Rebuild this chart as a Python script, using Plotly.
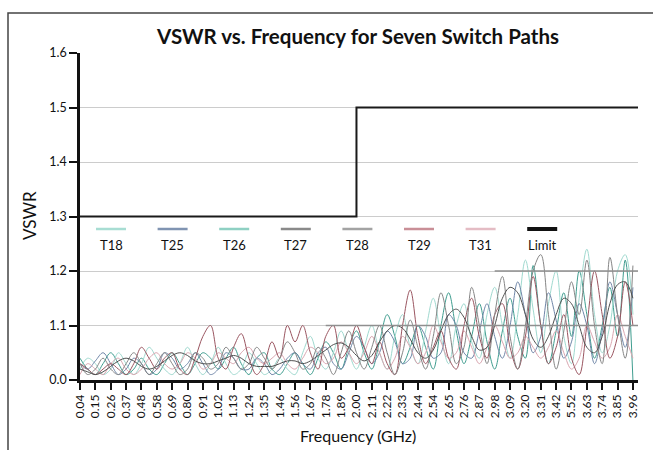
import numpy as np
import plotly.graph_objects as go

freq_labels = ["0.04", "0.15", "0.26", "0.37", "0.48", "0.58", "0.69", "0.80", "0.91",
               "1.02", "1.13", "1.24", "1.35", "1.46", "1.56", "1.67", "1.78", "1.89",
               "2.00", "2.11", "2.22", "2.33", "2.44", "2.54", "2.65", "2.76", "2.87",
               "2.98", "3.09", "3.20", "3.31", "3.42", "5.52", "3.63", "3.74", "3.85", "3.96"]

y_tick_vals = [1.0, 1.1, 1.2, 1.3, 1.4, 1.5, 1.6]
y_tick_text = ["0.0", "1.1", "1.2", "1.3", "1.4", "1.5", "1.6"]

# VSWR readings, two samples per frequency label (label, then half way to next)
T18 = [1.02, 1.04, 1.03, 1.01, 1.02, 1.05, 1.03, 1.01,
       1.03, 1.06, 1.04, 1.02, 1.01, 1.03, 1.06, 1.03,
       1.01, 1.03, 1.06, 1.03, 1.01, 1.02, 1.05, 1.03,
       1.01, 1.02, 1.04, 1.02, 1.01, 1.05, 1.08, 1.04,
       1.02, 1.05, 1.09, 1.05, 1.02, 1.06, 1.10, 1.05,
       1.02, 1.08, 1.12, 1.06, 1.03, 1.09, 1.15, 1.08,
       1.03, 1.10, 1.14, 1.07, 1.04, 1.12, 1.17, 1.10,
       1.04, 1.12, 1.22, 1.13, 1.05, 1.14, 1.20, 1.08,
       1.03, 1.15, 1.24, 1.12, 1.05, 1.10, 1.20, 1.23,
       1.12]
T25 = [1.03, 1.02, 1.035, 1.05, 1.03, 1.01, 1.02, 1.04,
       1.03, 1.01, 1.02, 1.05, 1.04, 1.02, 1.03, 1.05,
       1.03, 1.01, 1.02, 1.05, 1.04, 1.02, 1.02, 1.04,
       1.03, 1.01, 1.02, 1.04, 1.05, 1.03, 1.02, 1.05,
       1.06, 1.03, 1.02, 1.05, 1.08, 1.06, 1.03, 1.05,
       1.09, 1.07, 1.03, 1.04, 1.10, 1.08, 1.04, 1.05,
       1.12, 1.10, 1.05, 1.04, 1.09, 1.14, 1.08, 1.04,
       1.10, 1.18, 1.12, 1.05, 1.08, 1.16, 1.11, 1.04,
       1.07, 1.14, 1.10, 1.03, 1.09, 1.18, 1.12, 1.06,
       1.17]
T26 = [1.04, 1.02, 1.01, 1.03, 1.05, 1.03, 1.01, 1.02,
       1.04, 1.02, 1.01, 1.03, 1.05, 1.03, 1.01, 1.03,
       1.05, 1.04, 1.02, 1.04, 1.06, 1.03, 1.01, 1.04,
       1.05, 1.02, 1.01, 1.03, 1.05, 1.03, 1.01, 1.04,
       1.07, 1.05, 1.02, 1.06, 1.09, 1.05, 1.02, 1.07,
       1.12, 1.08, 1.03, 1.06, 1.10, 1.06, 1.02, 1.10,
       1.16, 1.09, 1.03, 1.08, 1.14, 1.07, 1.02, 1.09,
       1.15, 1.08, 1.04, 1.21, 1.10, 1.03, 1.09, 1.16,
       1.08, 1.20, 1.12, 1.04, 1.10, 1.17, 1.08, 1.22,
       1.00]
T27 = [1.02, 1.015, 1.01, 1.015, 1.025, 1.035, 1.04, 1.035,
       1.025, 1.02, 1.025, 1.035, 1.045, 1.05, 1.045, 1.035,
       1.03, 1.03, 1.035, 1.04, 1.045, 1.04, 1.03, 1.025,
       1.025, 1.025, 1.03, 1.035, 1.035, 1.03, 1.035, 1.045,
       1.055, 1.065, 1.068, 1.06, 1.045, 1.035, 1.045, 1.07,
       1.09, 1.10, 1.095, 1.075, 1.05, 1.04, 1.055, 1.09,
       1.12, 1.13, 1.115, 1.08, 1.055, 1.06, 1.10, 1.15,
       1.17, 1.16, 1.12, 1.075, 1.06, 1.08, 1.12, 1.15,
       1.14, 1.10, 1.06, 1.05, 1.08, 1.14, 1.175, 1.18,
       1.15]
T28 = [1.03, 1.01, 1.02, 1.04, 1.02, 1.01, 1.03, 1.05,
       1.03, 1.01, 1.03, 1.05, 1.03, 1.01, 1.02, 1.05,
       1.04, 1.02, 1.03, 1.06, 1.04, 1.02, 1.03, 1.06,
       1.04, 1.02, 1.04, 1.07, 1.05, 1.02, 1.03, 1.06,
       1.04, 1.01, 1.05, 1.09, 1.05, 1.02, 1.06, 1.10,
       1.05, 1.01, 1.05, 1.11, 1.06, 1.02, 1.08, 1.16,
       1.10, 1.03, 1.06, 1.17, 1.10, 1.03, 1.12, 1.19,
       1.08, 1.02, 1.10, 1.20, 1.23, 1.12, 1.02, 1.09,
       1.18, 1.12, 1.22, 1.10, 1.03, 1.225, 1.12, 1.04,
       1.21]
T29 = [1.03, 1.02, 1.01, 1.02, 1.03, 1.02, 1.01, 1.03,
       1.06, 1.04, 1.02, 1.04, 1.05, 1.02, 1.01, 1.04,
       1.08, 1.10, 1.04, 1.02, 1.06, 1.085, 1.04, 1.01,
       1.03, 1.07, 1.04, 1.10, 1.07, 1.10, 1.05, 1.02,
       1.08, 1.10, 1.04, 1.06, 1.10, 1.06, 1.03, 1.07,
       1.03, 1.01, 1.10, 1.165, 1.08, 1.03, 1.06, 1.09,
       1.04, 1.02, 1.10, 1.15, 1.08, 1.04, 1.12, 1.14,
       1.06, 1.02, 1.08, 1.19, 1.10, 1.03, 1.06, 1.12,
       1.04, 1.01, 1.10, 1.20, 1.12, 1.04, 1.08, 1.18,
       1.10]
T31 = [1.01, 1.03, 1.02, 1.01, 1.03, 1.04, 1.02, 1.01,
       1.02, 1.04, 1.05, 1.03, 1.02, 1.03, 1.05, 1.04,
       1.02, 1.03, 1.05, 1.04, 1.03, 1.05, 1.06, 1.04,
       1.03, 1.04, 1.05, 1.03, 1.02, 1.04, 1.06, 1.05,
       1.03, 1.04, 1.07, 1.05, 1.03, 1.05, 1.08, 1.05,
       1.02, 1.04, 1.08, 1.06, 1.03, 1.05, 1.10, 1.07,
       1.04, 1.05, 1.09, 1.06, 1.03, 1.06, 1.10, 1.07,
       1.04, 1.05, 1.08, 1.06, 1.04, 1.06, 1.09, 1.05,
       1.02, 1.04, 1.10, 1.07, 1.04, 1.06, 1.12, 1.08,
       1.04]

series_names = ["T18", "T25", "T26", "T27", "T28", "T29", "T31"]
series_values = [T18, T25, T26, T27, T28, T29, T31]
series_colors = ["#9fd9cf", "#6f86a8", "#3f9d8f", "#505050", "#858585", "#9a5560", "#d9a6b0"]
legend_colors = ["#a8ddd3", "#8094b2", "#8fd0c3", "#8a8a8a", "#a3a3a3", "#c98f97", "#e4bcc4"]

limit_break_label = "2.00"
limit_low, limit_high = 1.3, 1.5

fig = go.Figure()
x_max = len(freq_labels) - 1 + 0.33
draw_order = [2, 0, 1, 6, 5, 4, 3]
for i in draw_order:
    vals = series_values[i]
    x = np.arange(len(vals)) / 2.0
    fig.add_trace(go.Scatter(x=x, y=vals, mode="lines", name=series_names[i],
                             line=dict(color=series_colors[i], width=1, shape="spline", smoothing=1.0),
                             showlegend=False))

bi = freq_labels.index(limit_break_label)
fig.add_trace(go.Scatter(x=[0, bi, bi, x_max], y=[limit_low, limit_low, limit_high, limit_high],
                         mode="lines", name="Limit", line=dict(color="#1a1a1a", width=2),
                         showlegend=False, cliponaxis=False))

# darker reference lines drawn over the data
fig.add_shape(type="line", xref="x", yref="y", x0=16, x1=x_max, y0=1.1, y1=1.1,
              line=dict(color="#8f8f8f", width=1.3), layer="above")
fig.add_shape(type="line", xref="x", yref="y", x0=27, x1=x_max, y0=1.2, y1=1.2,
              line=dict(color="#8f8f8f", width=1.3), layer="above")

# custom legend: sample line above label
PL, PR, PT, PB = 80, 638, 53, 380
def px_x(p):
    return (p - PL) / (PR - PL)
def px_y(p):
    return (PB - p) / (PB - PT)

leg_names = series_names + ["Limit"]
leg_cols = legend_colors + ["#111111"]
for k, (nm, col) in enumerate(zip(leg_names, leg_cols)):
    cx = 111 + k * 61.6
    w = 4 if nm == "Limit" else 2.5
    fig.add_shape(type="line", xref="paper", yref="paper",
                  x0=px_x(cx - 15), x1=px_x(cx + 15), y0=px_y(229), y1=px_y(229),
                  line=dict(color=col, width=w))
    fig.add_annotation(xref="paper", yref="paper", x=px_x(cx), y=px_y(245), text=nm,
                       showarrow=False, font=dict(family="Lato", size=13, color="#111"),
                       xanchor="center", yanchor="middle")

# axis titles
fig.add_annotation(xref="paper", yref="paper", x=px_x(358), y=px_y(435), text="Frequency (GHz)",
                   showarrow=False, font=dict(family="Lato", size=16, color="#111"),
                   xanchor="center", yanchor="middle")
fig.add_annotation(xref="paper", yref="paper", x=px_x(29), y=px_y(216), text="VSWR",
                   showarrow=False, textangle=-90, font=dict(family="Lato", size=17, color="#111"),
                   xanchor="center", yanchor="middle")

# outer frame
fig.add_shape(type="path", xref="paper", yref="paper",
              path=f"M {px_x(8)},{px_y(452)} L {px_x(8)},{px_y(13)} L {px_x(655)},{px_y(13)}",
              line=dict(color="#444", width=1.5))

fig.update_layout(
    width=653, height=450,
    margin=dict(l=PL, r=653 - PR, t=PT, b=450 - PB, autoexpand=False),
    paper_bgcolor="white", plot_bgcolor="white",
    title=dict(text="<b>VSWR vs. Frequency for Seven Switch Paths</b>",
               x=px_x(358), xref="paper", xanchor="center",
               y=1 - 37 / 450, yref="container", yanchor="middle",
               font=dict(family="Lato", size=20.5, color="#111")),
    font=dict(family="Lato", color="#111"),
)
fig.update_xaxes(range=[0, x_max], tickmode="array", tickvals=list(range(len(freq_labels))),
                 ticktext=freq_labels, tickangle=-90, ticks="outside", ticklen=7, tickwidth=2,
                 tickcolor="#111", showline=True, linecolor="#111", linewidth=2.5, automargin=False,
                 showgrid=False, zeroline=False, tickfont=dict(family="Lato", size=12, color="#111"))
fig.update_yaxes(range=[1.0, 1.6], tickmode="array", tickvals=y_tick_vals, ticktext=y_tick_text,
                 ticks="outside", ticklen=8, tickwidth=2, tickcolor="#111", automargin=False,
                 showline=True, linecolor="#111", linewidth=2.5,
                 showgrid=True, gridcolor="#cccccc", gridwidth=1, zeroline=False,
                 tickfont=dict(family="Lato", size=12.5, color="#111"))

fig.write_html("out.html", config={"displayModeBar": False})
with open("out.html", "r", encoding="utf-8") as f:
    html = f.read()
html = html.replace("<body>", '<body style="margin:0;padding:0;">', 1)
html = html.replace("<head>", "<head><style>html,body{margin:0;padding:0;overflow:hidden;}</style>", 1)
with open("out.html", "w", encoding="utf-8") as f:
    f.write(html)
